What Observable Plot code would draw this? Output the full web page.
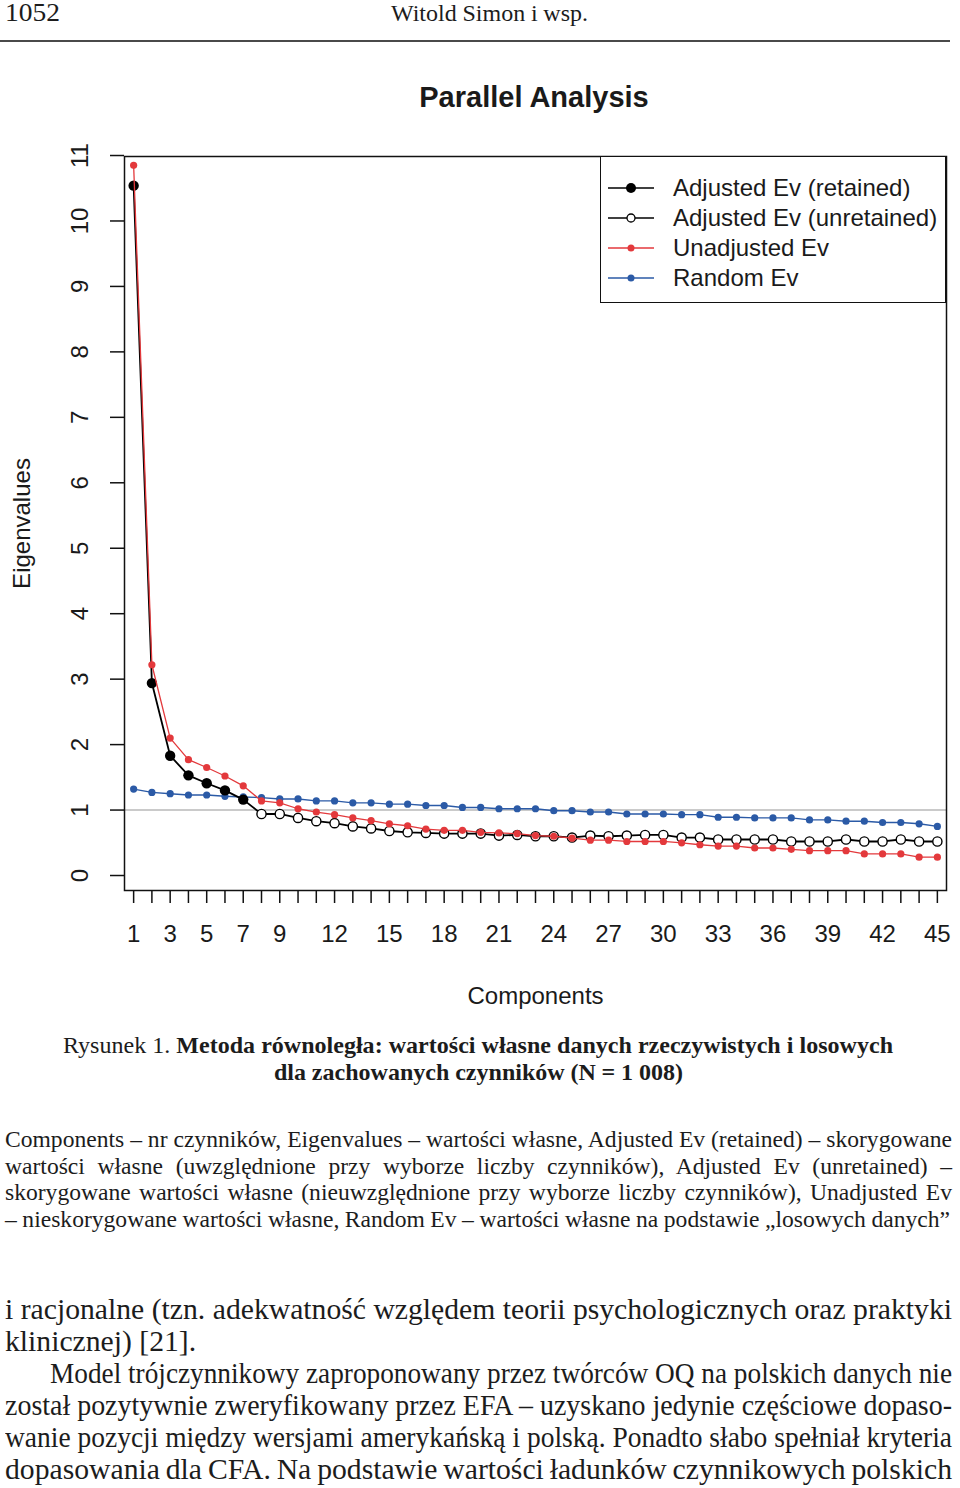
<!DOCTYPE html>
<html>
<head>
<meta charset="utf-8">
<script src="https://cdn.jsdelivr.net/npm/d3@7"></script>
<script src="https://cdn.jsdelivr.net/npm/@observablehq/plot@0.6"></script>
<style>
  html, body { margin: 0; padding: 0; background: #fff; }
  #page { position: relative; width: 960px; height: 1488px; overflow: hidden; background: #fff; color: #1c1c1c; }
  #chart { position: absolute; left: 0; top: 140px; }
  .ln { position: absolute; white-space: nowrap; transform-origin: 0 0; font-family: "Liberation Serif", "Times New Roman", serif; }
  #title { position: absolute; left: 34px; width: 1000px; top: 83px; text-align: center; font: bold 29px/29px "Liberation Sans", Arial, sans-serif; color: #1a1a1a; }
  #legend { position: absolute; left: 600px; top: 156px; width: 346px; height: 147px; box-sizing: border-box; border: 1.5px solid #111; background: #fff; font: 24px/30px "Liberation Sans", Arial, sans-serif; color: #1a1a1a; }
  .lrow { position: absolute; left: 0; height: 30px; width: 340px; }
  .lrow svg { position: absolute; left: 6px; top: 0; }
  .lrow span { position: absolute; left: 72px; top: 0; white-space: nowrap; }
  #rule { position: absolute; left: 0; top: 40px; width: 950px; height: 2px; background: #4a4a4a; }
</style>
</head>
<body>
<div id="page">
  <div id="rule"></div>
  <div id="title">Parallel Analysis</div>
  <div id="chart"></div>
  <div id="legend"></div>
</div>
<script>
// ---- data ----
const components = d3.range(1, 46);
const xTickLabels = [1, 3, 5, 7, 9, 12, 15, 18, 21, 24, 27, 30, 33, 36, 39, 42, 45];
const yTicks = [0, 1, 2, 3, 4, 5, 6, 7, 8, 9, 10, 11];
const adjustedRetained = [10.54, 2.94, 1.83, 1.53, 1.41, 1.30, 1.16];
const adjustedUnretained = [0.94, 0.94, 0.88, 0.83, 0.80, 0.75, 0.72, 0.68, 0.66, 0.65,
  0.64, 0.64, 0.64, 0.61, 0.62, 0.60, 0.60, 0.58, 0.61, 0.60,
  0.61, 0.62, 0.62, 0.58, 0.58, 0.55, 0.55, 0.55, 0.55, 0.52,
  0.52, 0.52, 0.55, 0.52, 0.52, 0.55, 0.52, 0.52];
const unadjusted = [10.85, 3.22, 2.10, 1.77, 1.65, 1.52, 1.37, 1.14, 1.11, 1.02,
  0.97, 0.93, 0.88, 0.84, 0.79, 0.76, 0.71, 0.69, 0.69, 0.66,
  0.65, 0.64, 0.61, 0.60, 0.57, 0.54, 0.54, 0.52, 0.52, 0.52,
  0.50, 0.47, 0.45, 0.45, 0.42, 0.42, 0.40, 0.38, 0.38, 0.38,
  0.33, 0.33, 0.33, 0.28, 0.28];
const randomEv = [1.32, 1.27, 1.25, 1.23, 1.23, 1.21, 1.20, 1.19, 1.17, 1.17,
  1.14, 1.14, 1.11, 1.11, 1.09, 1.09, 1.07, 1.07, 1.04, 1.04,
  1.02, 1.02, 1.02, 0.99, 0.99, 0.97, 0.97, 0.94, 0.94, 0.94,
  0.93, 0.93, 0.89, 0.89, 0.88, 0.88, 0.88, 0.85, 0.85, 0.83,
  0.83, 0.81, 0.81, 0.79, 0.75];
const seriesNames = ["Adjusted Ev (retained)", "Adjusted Ev (unretained)", "Unadjusted Ev", "Random Ev"];
const RED = "#e3393c", BLUE = "#2b5aa6";

const adjusted = adjustedRetained.concat(adjustedUnretained);
const rows = components.map((c, i) => ({
  c, adj: adjusted[i], retained: i < adjustedRetained.length, unadj: unadjusted[i], rand: randomEv[i]
}));

const chart = Plot.plot({
  width: 960,
  height: 880,
  marginLeft: 124,
  marginRight: 14,
  marginTop: 16,
  marginBottom: 130,
  x: {domain: [0.5, 45.5], axis: null},
  y: {domain: [-0.229, 10.985], axis: null},
  style: {fontFamily: "'Liberation Sans', Arial, sans-serif", fontSize: "24px", color: "#1a1a1a", background: "transparent", overflow: "visible"},
  marks: [
    Plot.ruleY([1], {stroke: "#b9b9b9", strokeWidth: 1.6}),
    Plot.axisY(yTicks, {tickSize: 14, tickFormat: () => "", strokeWidth: 1.5, stroke: "#111", label: null}),
    Plot.text(yTicks, {x: () => 0.5, y: d => d, text: d => String(d), rotate: -90, dx: -44, textAnchor: "middle", lineAnchor: "middle", fontSize: 24, fill: "#1a1a1a"}),
    Plot.axisX(components, {tickSize: 13, tickFormat: () => "", strokeWidth: 1.5, stroke: "#111", label: null}),
    Plot.axisX(xTickLabels, {tickSize: 0, tickPadding: 34, fontSize: 24, label: null, tickFormat: d => String(d)}),
    Plot.text(["Eigenvalues"], {frameAnchor: "left", rotate: -90, dx: -102, textAnchor: "middle", lineAnchor: "middle", fontSize: 24, fill: "#1a1a1a"}),
    Plot.text(["Components"], {frameAnchor: "bottom", dy: 106, textAnchor: "middle", lineAnchor: "middle", fontSize: 24, fill: "#1a1a1a"}),
    Plot.line(rows, {x: "c", y: "rand", stroke: BLUE, strokeWidth: 1.4}),
    Plot.dot(rows, {x: "c", y: "rand", r: 3.6, fill: BLUE}),
    Plot.line(rows, {x: "c", y: "adj", stroke: "#000", strokeWidth: 1.8}),
    Plot.dot(rows.filter(d => !d.retained), {x: "c", y: "adj", r: 4.6, fill: "#fff", stroke: "#000", strokeWidth: 1.4}),
    Plot.dot(rows.filter(d => d.retained), {x: "c", y: "adj", r: 5.2, fill: "#000"}),
    Plot.line(rows, {x: "c", y: "unadj", stroke: RED, strokeWidth: 1.3}),
    Plot.dot(rows, {x: "c", y: "unadj", r: 3.6, fill: RED}),
    Plot.frame({stroke: "#111", strokeWidth: 1.5})
  ]
});
document.getElementById("chart").appendChild(chart);

// ---- legend ----
const legendStyles = [
  {stroke: "#000", fill: "#000", r: 5},
  {stroke: "#000", fill: "#fff", r: 4},
  {stroke: RED, fill: RED, r: 3.5},
  {stroke: BLUE, fill: BLUE, r: 3.5}
];
const legend = document.getElementById("legend");
seriesNames.forEach((name, i) => {
  const row = document.createElement("div");
  row.className = "lrow";
  row.style.top = (16 + i * 30) + "px";
  const s = legendStyles[i];
  row.innerHTML = `<svg width="50" height="30"><line x1="1" x2="47" y1="15" y2="15" stroke="${s.stroke}" stroke-width="1.4"/>` +
    `<circle cx="24" cy="15" r="${s.r}" fill="${s.fill}" stroke="${i === 1 ? '#000' : 'none'}" stroke-width="1.3"/></svg><span>${name}</span>`;
  legend.appendChild(row);
});

// ---- page text ----
const page = document.getElementById("page");
const blocks = [
  {lines: [
    {html: "1052", x: 5, cy: 14.5, w: 55},
  ], size: 25, fixed: true},
  {lines: [
    {html: "Witold Simon i wsp.", x: 391, cy: 14, w: 197},
  ], size: 24, fixed: true},
  {lines: [
    {html: "Rysunek 1. <b>Metoda równoległa: wartości własne danych rzeczywistych i losowych</b>", x: 63, cy: 1046, w: 830},
    {html: "<b>dla zachowanych czynników (N = 1 008)</b>", x: 274, cy: 1073, w: 409}
  ]},
  {lines: [
    {html: "Components – nr czynników, Eigenvalues – wartości własne, Adjusted Ev (retained) – skorygowane", x: 5, cy: 1141, w: 947},
    {html: "wartości własne (uwzględnione przy wyborze liczby czynników), Adjusted Ev (unretained) –", x: 5, cy: 1168, w: 947},
    {html: "skorygowane wartości własne (nieuwzględnione przy wyborze liczby czynników), Unadjusted Ev", x: 5, cy: 1194, w: 947},
    {html: "– nieskorygowane wartości własne, Random Ev – wartości własne na podstawie „losowych danych”", x: 5, cy: 1221, w: 945}
  ]},
  {lines: [
    {html: "i racjonalne (tzn. adekwatność względem teorii psychologicznych oraz praktyki", x: 5, cy: 1312, w: 947},
    {html: "klinicznej) [21].", x: 5, cy: 1344, w: null},
    {html: "Model trójczynnikowy zaproponowany przez twórców OQ na polskich danych nie", x: 50, cy: 1376, w: 902},
    {html: "został pozytywnie zweryfikowany przez EFA – uzyskano jedynie częściowe dopaso-", x: 5, cy: 1408, w: 947},
    {html: "wanie pozycji między wersjami amerykańską i polską. Ponadto słabo spełniał kryteria", x: 5, cy: 1440, w: 947},
    {html: "dopasowania dla CFA. Na podstawie wartości ładunków czynnikowych polskich", x: 5, cy: 1472, w: 947}
  ]}
];
function makeLine(L, size) {
  const el = document.createElement("div");
  el.className = "ln";
  el.style.left = L.x + "px";
  el.style.fontSize = size + "px";
  el.style.lineHeight = size + "px";
  el.style.top = Math.max(0, L.cy - 0.56 * size) + "px";
  el.innerHTML = L.html;
  page.appendChild(el);
  return el;
}
blocks.forEach(B => {
  let size = B.size || 20;
  if (!B.fixed) {
    // derive the block's font size from its first (full, normally spaced) line
    const probe = makeLine(B.lines[0], 20);
    const w0 = probe.getBoundingClientRect().width;
    probe.remove();
    size = Math.min(30, 20 * B.lines[0].w / w0);
  }
  B.lines.forEach(L => {
    const el = makeLine(L, size);
    if (L.w == null) return;
    const w = el.getBoundingClientRect().width;
    const spaces = (el.textContent.match(/ /g) || []).length;
    const ws = spaces > 0 ? (L.w - w) / spaces : 0;
    if (spaces > 0 && ws > -2.5) {
      el.style.wordSpacing = ws + "px";
    } else if (w > 0) {
      el.style.transform = `scaleX(${L.w / w})`;
    }
  });
});
</script>
</body>
</html>
